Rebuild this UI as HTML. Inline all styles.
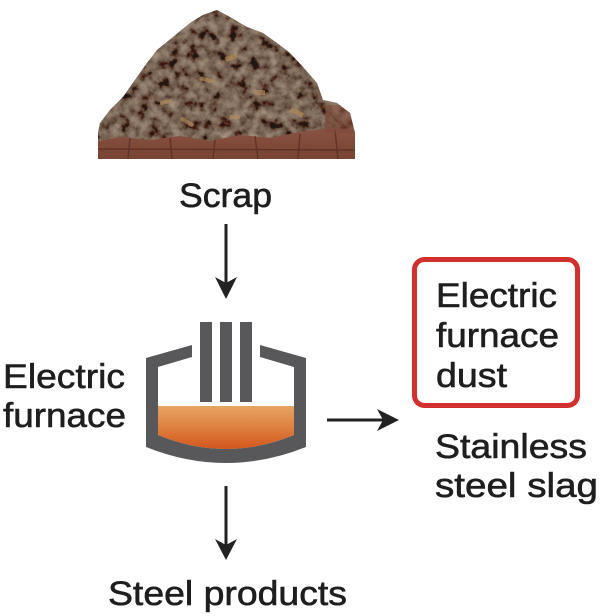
<!DOCTYPE html>
<html>
<head>
<meta charset="utf-8">
<style>
  html, body { margin: 0; padding: 0; background: #ffffff; }
  body { width: 600px; height: 616px; overflow: hidden; }
  svg { display: block; }
  text { font-family: "Liberation Sans", "DejaVu Sans", sans-serif; fill: #1e1e1e; stroke: #1e1e1e; stroke-width: 0.6px; font-size: 34px; }
</style>
</head>
<body>
<svg width="600" height="616" viewBox="0 0 600 616" xmlns="http://www.w3.org/2000/svg">
  <defs>
    <linearGradient id="melt" x1="0" y1="0" x2="0" y2="1">
      <stop offset="0" stop-color="#e6a463"/>
      <stop offset="0.5" stop-color="#df8040"/>
      <stop offset="1" stop-color="#d4561b"/>
    </linearGradient>
    <clipPath id="pileClip">
      <path d="M98,133 L100,123 L110,110 L123,97 L137,77 L147,63 L157,50 L173,37 L190,23 L203,15 L217,10 L230,17 L247,27 L263,33 L277,43 L290,53 L303,67 L317,83 L323,100 L337,103 L350,113 L355,133 L355,159 L98,159 Z"/>
    </clipPath>
    <filter id="tex" x="0" y="0" width="100%" height="100%">
      <feTurbulence type="fractalNoise" baseFrequency="0.1" numOctaves="3" seed="7"/>
      <feColorMatrix type="matrix" values="1.5 0 0 0 -0.38  1.25 0 0 0 -0.38  0.95 0 0 0 -0.3  0 0 0 0 1"/>
    </filter>
    <linearGradient id="brick" x1="0" y1="0" x2="0" y2="1">
      <stop offset="0" stop-color="#8a5242"/>
      <stop offset="1" stop-color="#74402f"/>
    </linearGradient>
  </defs>

  <!-- Scrap pile -->
  <g clip-path="url(#pileClip)">
    <rect x="95" y="5" width="265" height="160" fill="#40352a"/>
    <rect x="95" y="5" width="265" height="160" filter="url(#tex)" opacity="0.55"/>
    <path d="M95,142 L120,137 L150,140 L180,136 L210,141 L240,135 L270,138 L300,132 L330,128 L360,130 L360,165 L95,165 Z" fill="url(#brick)"/>
    <g stroke="#552a22" stroke-width="1.5" opacity="0.7">
      <line x1="98" y1="149" x2="355" y2="150"/>
      <line x1="130" y1="138" x2="128" y2="159"/>
      <line x1="170" y1="138" x2="172" y2="159"/>
      <line x1="215" y1="140" x2="213" y2="159"/>
      <line x1="255" y1="136" x2="258" y2="159"/>
      <line x1="300" y1="134" x2="298" y2="159"/>
      <line x1="335" y1="130" x2="338" y2="159"/>
    </g>
    <g fill="#b08a5a" opacity="0.7">
      <rect x="225" y="55" width="12" height="5" transform="rotate(-20 231 57)"/>
      <rect x="200" y="78" width="14" height="4" transform="rotate(15 207 80)"/>
      <rect x="255" y="90" width="10" height="5"/>
      <rect x="160" y="100" width="12" height="4" transform="rotate(-10 166 102)"/>
      <rect x="290" y="110" width="14" height="5" transform="rotate(25 297 112)"/>
      <rect x="230" y="115" width="10" height="4"/>
      <rect x="180" y="120" width="14" height="4" transform="rotate(30 187 122)"/>
    </g>
    <rect x="325" y="105" width="30" height="28" fill="#7e4a3a" opacity="0.6"/>
  </g>

  <!-- Labels -->
  <text x="179" y="207" textLength="93" lengthAdjust="spacingAndGlyphs">Scrap</text>

  <text x="3" y="388" textLength="122" lengthAdjust="spacingAndGlyphs">Electric</text>
  <text x="3" y="427" textLength="123" lengthAdjust="spacingAndGlyphs">furnace</text>

  <text x="436" y="307" textLength="121" lengthAdjust="spacingAndGlyphs">Electric</text>
  <text x="436" y="347" textLength="123" lengthAdjust="spacingAndGlyphs">furnace</text>
  <text x="436" y="387" textLength="71" lengthAdjust="spacingAndGlyphs">dust</text>

  <text x="435" y="458" textLength="152" lengthAdjust="spacingAndGlyphs">Stainless</text>
  <text x="435" y="497" textLength="163" lengthAdjust="spacingAndGlyphs">steel slag</text>

  <text x="108" y="605" textLength="239" lengthAdjust="spacingAndGlyphs">Steel products</text>

  <!-- Red box -->
  <rect x="414.5" y="259.5" width="163" height="146" rx="10" ry="10" fill="none" stroke="#d22f2f" stroke-width="5"/>

  <!-- Arrows -->
  <g fill="#222222" stroke="none">
    <rect x="224.5" y="224" width="3" height="62"/>
    <polygon points="226,299 215,277 226,283 237,277"/>
    <rect x="327" y="418.5" width="58" height="3"/>
    <polygon points="399,420 377,409 383,420 377,431"/>
    <rect x="224.5" y="486" width="3" height="62"/>
    <polygon points="226,560 215,539 226,545 237,539"/>
  </g>

  <!-- Furnace -->
  <path d="M158,406 L294,406 L294,435 Q226,463 158,435 Z" fill="url(#melt)"/>
  <path d="M192,345 L146,358 L146,447 Q226,479 306,447 L306,358 L260,345 L260,357 L294,367 L294,435 Q226,463 158,435 L158,367 L192,357 Z" fill="#58585a"/>
  <rect x="200" y="322" width="12" height="80" fill="#58585a"/>
  <rect x="220" y="322" width="12" height="80" fill="#58585a"/>
  <rect x="240" y="322" width="12" height="80" fill="#58585a"/>
</svg>
</body>
</html>
